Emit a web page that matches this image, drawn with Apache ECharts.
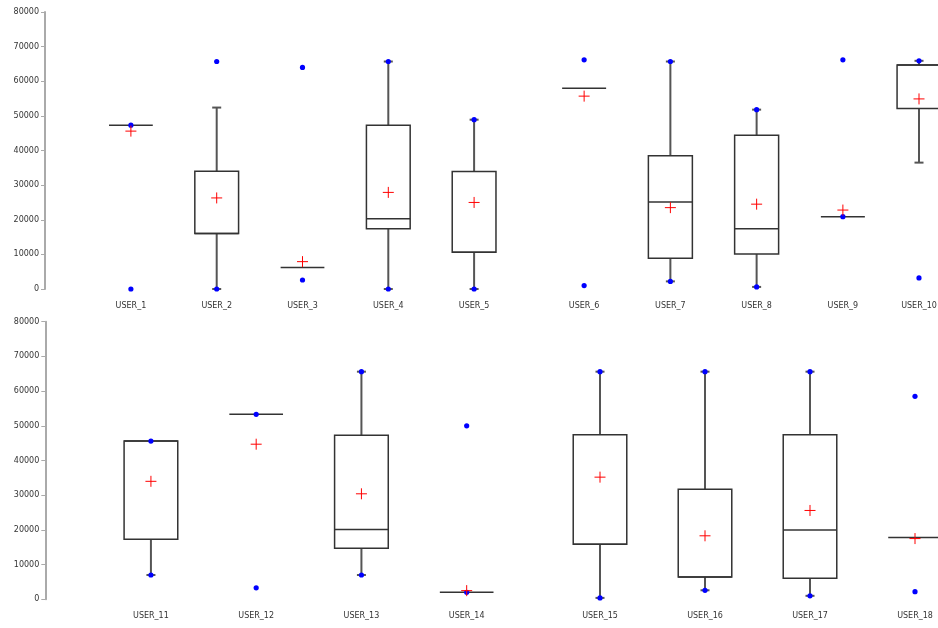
<!DOCTYPE html>
<html>
<head>
<meta charset="utf-8">
<script src="https://cdn.jsdelivr.net/npm/echarts@6/dist/echarts.min.js"></script>
<style>html,body{margin:0;padding:0;background:#fff;}#main{width:938px;height:628px;}</style>
</head>
<body>
<div id="main"></div>
<script>
const categories = ['USER_1','USER_2','USER_3','USER_4','USER_5','USER_6','USER_7','USER_8','USER_9','USER_10',
                    'USER_11','USER_12','USER_13','USER_14','USER_15','USER_16','USER_17','USER_18'];
const lowerWhisker = [47300, 0, 6200, 0, 0, 58000, 2200, 600, 20900, 36500,
                      7000, 53300, 7000, 2000, 400, 2600, 1000, 17800];
const q1Values     = [47300, 16000, 6200, 17400, 10600, 58000, 8900, 10100, 20900, 52100,
                      17300, 53300, 14700, 2000, 15900, 6400, 6100, 17800];
const medianValues = [47300, 16000, 6200, 20300, 10600, 58000, 25100, 17400, 20900, 64700,
                      45600, 53300, 20100, 2000, 15900, 6400, 20000, 17800];
const q3Values     = [47300, 34000, 6200, 47300, 33900, 58000, 38500, 44400, 20900, 64700,
                      45600, 53300, 47300, 2000, 47400, 31700, 47400, 17800];
const upperWhisker = [47300, 52400, 6200, 65700, 48900, 58000, 65700, 51800, 20900, 65900,
                      45600, 53300, 65600, 2000, 65600, 65600, 65600, 17800];
const minValues    = [0, 0, 2600, 0, 0, 1000, 2200, 600, 20900, 3200,
                      7000, 3300, 7000, 2000, 400, 2600, 1000, 2200];
const maxValues    = [47300, 65700, 64000, 65700, 48900, 66200, 65700, 51800, 66200, 65900,
                      45600, 53300, 65600, 50000, 65600, 65600, 65600, 58500];
const meanValues   = [45600, 26300, 7900, 27900, 25000, 55700, 23500, 24500, 22800, 54900,
                      34000, 44700, 30400, 2500, 35200, 18300, 25600, 17500];
const yMin = 0, yMax = 80000, yInterval = 10000;

// panel groups: [start, end) indices into categories
const groups = [[0,5],[5,9],[9,10],[10,14],[14,18]];
const gridLayout = [
  {left: 88,    top: 12,    width: 429, height: 277,   yAxisShow: true,  offset: 43},
  {left: 541,   top: 12,    width: 345, height: 277,   yAxisShow: false, offset: 0},
  {left: 876,   top: 12,    width: 86,  height: 277,   yAxisShow: false, offset: 0},
  {left: 98.3,  top: 321.7, width: 421, height: 277.6, yAxisShow: true,  offset: 53},
  {left: 547.5, top: 321.7, width: 420, height: 277.6, yAxisShow: false, offset: 0}
];

const FONT = 'DejaVu Sans';

function renderItem(params, api) {
  const x = api.value(0);
  const lw = api.value(1), q1 = api.value(2), med = api.value(3), q3 = api.value(4),
        uw = api.value(5), mn = api.value(6), mx = api.value(7), mean = api.value(8);
  const cx = api.coord([x, 0])[0];
  const Y = v => api.coord([x, v])[1];
  const band = api.size([1, 0])[0];
  const hw = band * 0.255;
  const capHW = 4.5;
  const children = [];
  const wStyle = {stroke: '#555', lineWidth: 2};
  if (uw > q3) {
    children.push({type: 'line', shape: {x1: cx, y1: Y(q3), x2: cx, y2: Y(uw)}, style: wStyle});
    children.push({type: 'line', shape: {x1: cx - capHW, y1: Y(uw), x2: cx + capHW, y2: Y(uw)}, style: wStyle});
  }
  if (lw < q1) {
    children.push({type: 'line', shape: {x1: cx, y1: Y(q1), x2: cx, y2: Y(lw)}, style: wStyle});
    children.push({type: 'line', shape: {x1: cx - capHW, y1: Y(lw), x2: cx + capHW, y2: Y(lw)}, style: wStyle});
  }
  const bStyle = {stroke: '#333', lineWidth: 1.5, fill: '#fff'};
  if (q3 > q1) {
    children.push({type: 'rect', shape: {x: cx - hw, y: Y(q3), width: 2 * hw, height: Y(q1) - Y(q3)}, style: bStyle});
  }
  children.push({type: 'line', shape: {x1: cx - hw, y1: Y(med), x2: cx + hw, y2: Y(med)}, style: {stroke: '#333', lineWidth: 1.5}});
  [mn, mx].forEach(v => {
    children.push({type: 'circle', shape: {cx: cx, cy: Y(v), r: 2.6}, style: {fill: '#0000ff'}});
  });
  const my = Y(mean);
  const ph = 5.5;
  const pStyle = {stroke: '#ff0000', lineWidth: 1};
  children.push({type: 'line', shape: {x1: cx - ph, y1: my, x2: cx + ph, y2: my}, style: pStyle});
  children.push({type: 'line', shape: {x1: cx, y1: my - ph, x2: cx, y2: my + ph}, style: pStyle});
  return {type: 'group', children: children};
}

const grid = [], xAxis = [], yAxis = [], series = [];
groups.forEach((g, gi) => {
  const L = gridLayout[gi];
  grid.push({left: L.left, top: L.top, width: L.width, height: L.height,
             containLabel: false, outerBoundsMode: 'none'});
  xAxis.push({
    type: 'category', gridIndex: gi, data: categories.slice(g[0], g[1]), boundaryGap: true,
    axisLine: {show: false}, axisTick: {show: false}, splitLine: {show: false},
    axisLabel: {fontFamily: FONT, fontSize: 8, color: '#333', margin: 13}
  });
  yAxis.push({
    type: 'value', gridIndex: gi, min: yMin, max: yMax, interval: yInterval,
    show: L.yAxisShow, offset: L.offset,
    axisLine: {show: true, lineStyle: {color: '#aaa', width: 2}},
    axisTick: {show: true, length: 4, lineStyle: {color: '#aaa', width: 1}},
    splitLine: {show: false},
    axisLabel: {fontFamily: FONT, fontSize: 8, color: '#333', margin: 6,
                formatter: v => String(v)}
  });
  const data = [];
  for (let i = g[0]; i < g[1]; i++) {
    data.push([i - g[0], lowerWhisker[i], q1Values[i], medianValues[i], q3Values[i],
               upperWhisker[i], minValues[i], maxValues[i], meanValues[i]]);
  }
  series.push({
    type: 'custom', xAxisIndex: gi, yAxisIndex: gi, renderItem: renderItem,
    encode: {x: 0, y: [1, 2, 3, 4, 5, 6, 7, 8]}, data: data, clip: false, silent: true
  });
});

const chart = echarts.init(document.getElementById('main'), null, {renderer: 'canvas'});
chart.setOption({animation: false, backgroundColor: '#fff', grid, xAxis, yAxis, series});
</script>
</body>
</html>
